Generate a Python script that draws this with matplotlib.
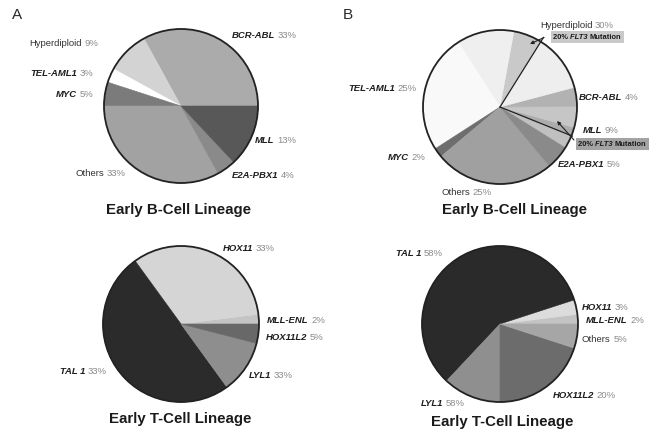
import matplotlib.pyplot as plt
from matplotlib.patches import Circle
import numpy as np

plt.rcParams['font.family'] = ['Liberation Sans', 'DejaVu Sans']

# ---- data (slice sizes, label text as printed) ----
# A, early B-cell (counter-clockwise from 3 o'clock)
ab_names = ['BCR-ABL', 'Hyperdiploid', 'TEL-AML1', 'MYC', 'Others', 'E2A-PBX1', 'MLL']
ab_values = [33, 9, 3, 5, 33, 4, 13]
ab_colors = ['#ababab', '#d3d3d3', '#ffffff', '#7b7b7b', '#a2a2a2', '#8a8a8a', '#585858']
ab_pcts = ['33%', '9%', '3%', '5%', '33%', '4%', '13%']

# A, early T-cell
at_names = ['MLL-ENL', 'HOX11', 'TAL 1', 'LYL1', 'HOX11L2']
at_values = [2, 33, 50, 11, 4]
at_colors = ['#c4c4c4', '#d5d5d5', '#2b2b2b', '#8e8e8e', '#686868']
at_pcts = ['2%', '33%', '33%', '33%', '5%']

# B, early B-cell (starts at -32 deg; MLL and Hyperdiploid split out their FLT3 part)
bb_names = ['MLL', 'MLL FLT3', 'MLL', 'BCR-ABL', 'Hyperdiploid', 'Hyperdiploid FLT3',
            'Hyperdiploid', 'TEL-AML1', 'MYC', 'Others', 'E2A-PBX1']
bb_values = [2.8, 1.8, 4.4, 4, 12, 6, 12, 25, 2, 25, 5]
bb_colors = ['#c0c0c0', '#acacac', '#c6c6c6', '#b2b2b2', '#eeeeee', '#c9c9c9',
             '#efefef', '#f9f9f9', '#6e6e6e', '#a0a0a0', '#8a8a8a']
bb_label_names = ['Hyperdiploid', 'TEL-AML1', 'BCR-ABL', 'MLL', 'MYC', 'Others', 'E2A-PBX1']
bb_pcts = ['30%', '25%', '4%', '9%', '2%', '25%', '5%']

# B, early T-cell
bt_names = ['MLL-ENL', 'HOX11', 'TAL 1', 'LYL1', 'HOX11L2', 'Others']
bt_values = [2, 3, 58, 12, 20, 5]
bt_colors = ['#c3c3c3', '#dcdcdc', '#2a2a2a', '#8f8f8f', '#6c6c6c', '#a6a6a6']
bt_pcts = ['2%', '3%', '58%', '58%', '20%', '5%']

# ---- layout (pixel space, y measured from the top) ----
W, H = 661, 440
fig = plt.figure(figsize=(W / 100, H / 100), dpi=100)
ax = fig.add_axes([0, 0, 1, 1])


def Y(y):
    return H - y


def pie(values, colors, cx, cy, r, start=0):
    wedges, _ = ax.pie(values, colors=colors, startangle=start, center=(cx, Y(cy)),
                       radius=r, wedgeprops=dict(linewidth=0.4))
    for w in wedges:
        w.set_edgecolor(w.get_facecolor())
    ax.add_patch(Circle((cx, Y(cy)), r, fill=False, lw=1.3, ec='#222222', zorder=5))
    return wedges


def label(x, y, name, pct, side, italic=True, fs=6.8):
    nkw = dict(fontsize=fs, color='#1e1e1e' if italic else '#333333',
               fontweight='bold' if italic else 'normal',
               fontstyle='italic' if italic else 'normal')
    pkw = dict(fontsize=fs, color='#8a8a8a')
    if side == 'left':
        p = ax.text(x, Y(y), pct, ha='right', va='center', **pkw)
        ax.annotate(name, xy=(0, 0), xycoords=p, xytext=(-1.8, 0),
                    textcoords='offset points', ha='right', va='bottom', **nkw)
    else:
        n = ax.text(x, Y(y), name, ha='left', va='center', **nkw)
        ax.annotate(pct, xy=(1, 0), xycoords=n, xytext=(1.8, 0),
                    textcoords='offset points', ha='left', va='bottom', **pkw)


def flt3_box(x, y, fc):
    # later pieces sit on top, their left padding only covers the trailing space
    box = dict(boxstyle='square,pad=0.3', fc=fc, ec='none')
    kw = dict(fontsize=5.4, color='#1a1a1a', fontweight='bold')
    t1 = ax.text(x, Y(y), '20% ', ha='left', va='center', bbox=box, zorder=8, **kw)
    t2 = ax.annotate('FLT3 ', xy=(1, 0), xycoords=t1, ha='left', va='bottom',
                     fontstyle='italic', bbox=box, zorder=8.1, **kw)
    ax.annotate('Mutation', xy=(1, 0), xycoords=t2, ha='left', va='bottom',
                bbox=box, zorder=8.2, **kw)


def title(x, y, s):
    ax.text(x, Y(y), s, ha='center', va='center', fontsize=10.8, fontweight='bold',
            color='#1a1a1a')


def radial(cx, cy, ang, r_out):
    a = np.deg2rad(ang)
    ax.plot([cx, cx + r_out * np.cos(a)], [Y(cy), Y(cy) + r_out * np.sin(a)],
            color='#222222', lw=0.9, zorder=6)


# A top
pie(ab_values, ab_colors, 181, 106, 77)
lab_pos = {'BCR-ABL': (232, 35, 'right'), 'Hyperdiploid': (98, 43, 'left'),
           'TEL-AML1': (93, 73, 'left'), 'MYC': (93, 94, 'left'),
           'Others': (126, 173, 'left'), 'E2A-PBX1': (232, 175, 'right'),
           'MLL': (255, 140, 'right')}
for n, p in zip(ab_names, ab_pcts):
    x, y, s = lab_pos[n]
    label(x, y, n, p, s, italic=n not in ('Hyperdiploid', 'Others'))
title(178, 210, 'Early B-Cell Lineage')

# A bottom
pie(at_values, at_colors, 181, 324, 78)
lab_pos = {'HOX11': (223, 248, 'right'), 'MLL-ENL': (267, 320, 'right'),
           'HOX11L2': (266, 337, 'right'), 'LYL1': (249, 376, 'right'),
           'TAL 1': (107, 372, 'left')}
for n, p in zip(at_names, at_pcts):
    x, y, s = lab_pos[n]
    label(x, y, n, p, s)
title(180, 419, 'Early T-Cell Lineage')

# B top
bw = pie(bb_values, bb_colors, 500, 107, 77, start=-32)
lab_pos = {'Hyperdiploid': (540, 25, 'right'), 'TEL-AML1': (417, 88, 'left'),
           'BCR-ABL': (579, 97, 'right'), 'MLL': (583, 130, 'right'),
           'MYC': (425, 157, 'left'), 'Others': (492, 192, 'left'),
           'E2A-PBX1': (558, 164, 'right')}
for n, p in zip(bb_label_names, bb_pcts):
    x, y, s = lab_pos[n]
    label(x, y, n, p, s, italic=n not in ('Hyperdiploid', 'Others'))
hyp_flt3 = bw[bb_names.index('Hyperdiploid FLT3')]
mll_flt3 = bw[bb_names.index('MLL FLT3')]
radial(500, 107, hyp_flt3.theta1, 82)
radial(500, 107, mll_flt3.theta1, 78)
flt3_box(553, 37, '#cacaca')
flt3_box(578, 144, '#a3a3a3')
ax.annotate('', xy=(530, Y(44)), xytext=(544, Y(37.5)),
            arrowprops=dict(arrowstyle='-|>', lw=0.8, color='#222222',
                            mutation_scale=5, shrinkA=0, shrinkB=0), zorder=7)
ax.annotate('', xy=(557, Y(121)), xytext=(574, Y(140)),
            arrowprops=dict(arrowstyle='-|>', lw=0.8, color='#222222',
                            mutation_scale=5, shrinkA=0, shrinkB=0), zorder=7)
title(515, 210, 'Early B-Cell Lineage')

# B bottom
pie(bt_values, bt_colors, 500, 324, 78)
lab_pos = {'TAL 1': (443, 253, 'left'), 'HOX11': (582, 307, 'right'),
           'MLL-ENL': (586, 320, 'right'), 'Others': (582, 339, 'right'),
           'HOX11L2': (553, 395, 'right'), 'LYL1': (465, 403, 'left')}
for n, p in zip(bt_names, bt_pcts):
    x, y, s = lab_pos[n]
    label(x, y, n, p, s, italic=n != 'Others')
title(502, 422, 'Early T-Cell Lineage')

ax.text(17, Y(15), 'A', fontsize=11, color='#2a2a2a', ha='center', va='center')
ax.text(348, Y(15), 'B', fontsize=11, color='#2a2a2a', ha='center', va='center')

ax.set_xlim(0, W)
ax.set_ylim(0, H)
ax.set_aspect('equal')
ax.axis('off')
fig.savefig('out.png', dpi=100, facecolor='white')
